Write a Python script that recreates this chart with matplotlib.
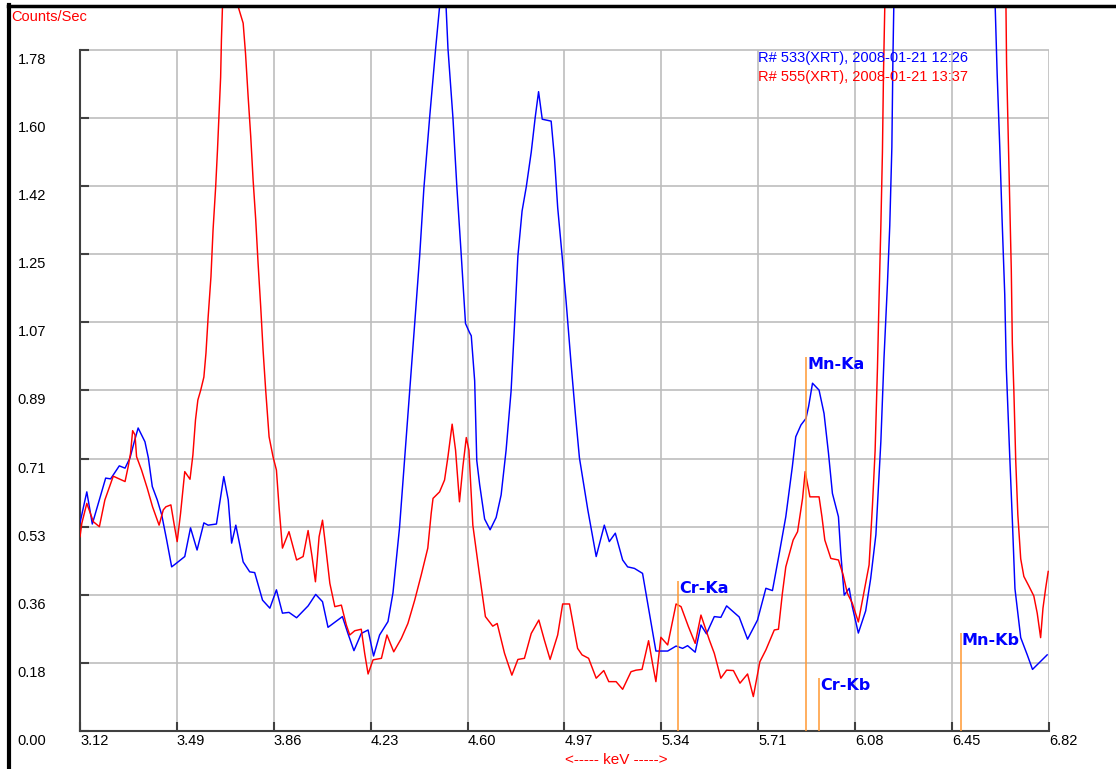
import matplotlib
matplotlib.use("Agg")
import matplotlib.pyplot as plt
from matplotlib.lines import Line2D
from matplotlib.transforms import ScaledTranslation

plt.rcParams['font.family'] = ['Liberation Sans', 'DejaVu Sans']

# spectrum R# 533 (blue), keV / counts per sec
blue_kev = [3.120, 3.146, 3.167, 3.218, 3.237, 3.270, 3.292, 3.311, 3.326, 3.342,
            3.368, 3.381, 3.396, 3.415, 3.432, 3.451, 3.470, 3.489, 3.520, 3.542,
            3.567, 3.593, 3.609, 3.641, 3.669, 3.686, 3.699, 3.715, 3.743, 3.768,
            3.787, 3.817, 3.845, 3.870, 3.893, 3.918, 3.947, 3.991, 4.020, 4.046,
            4.067, 4.122, 4.143, 4.166, 4.194, 4.220, 4.241, 4.264, 4.296, 4.315,
            4.340, 4.360, 4.379, 4.398, 4.417, 4.433, 4.455, 4.478, 4.493, 4.505,
            4.518, 4.525, 4.544, 4.559, 4.576, 4.592, 4.607, 4.614, 4.627, 4.635,
            4.646, 4.665, 4.686, 4.709, 4.728, 4.747, 4.766, 4.779, 4.792, 4.808,
            4.824, 4.843, 4.858, 4.871, 4.885, 4.919, 4.932, 4.944, 4.961, 4.976,
            4.995, 5.012, 5.027, 5.059, 5.091, 5.122, 5.141, 5.164, 5.192, 5.211,
            5.237, 5.268, 5.294, 5.319, 5.364, 5.396, 5.421, 5.440, 5.469, 5.491,
            5.512, 5.542, 5.567, 5.589, 5.637, 5.669, 5.707, 5.739, 5.764, 5.790,
            5.815, 5.840, 5.853, 5.873, 5.892, 5.902, 5.917, 5.942, 5.961, 5.978,
            5.993, 6.016, 6.025, 6.038, 6.057, 6.069, 6.092, 6.120, 6.139, 6.159,
            6.168, 6.178, 6.190, 6.203, 6.212, 6.220, 6.224, 6.230, 6.419, 6.610,
            6.622, 6.632, 6.641, 6.651, 6.657, 6.664, 6.670, 6.680, 6.690, 6.712,
            6.737, 6.757, 6.813]
blue_cps = [0.544, 0.625, 0.541, 0.661, 0.659, 0.693, 0.687, 0.714, 0.753, 0.792,
            0.756, 0.714, 0.639, 0.604, 0.565, 0.499, 0.429, 0.439, 0.456, 0.531,
            0.473, 0.544, 0.538, 0.541, 0.665, 0.604, 0.491, 0.538, 0.442, 0.416,
            0.414, 0.342, 0.321, 0.369, 0.308, 0.310, 0.296, 0.327, 0.357, 0.338,
            0.271, 0.299, 0.255, 0.210, 0.255, 0.264, 0.196, 0.251, 0.286, 0.361,
            0.531, 0.714, 0.889, 1.065, 1.242, 1.418, 1.603, 1.784, 1.893, 1.939,
            1.890, 1.784, 1.603, 1.422, 1.241, 1.065, 1.042, 1.033, 0.915, 0.707,
            0.644, 0.554, 0.526, 0.558, 0.617, 0.734, 0.888, 1.060, 1.241, 1.359,
            1.422, 1.513, 1.603, 1.671, 1.599, 1.594, 1.495, 1.368, 1.241, 1.124,
            0.961, 0.825, 0.714, 0.578, 0.456, 0.538, 0.495, 0.517, 0.447, 0.429,
            0.425, 0.412, 0.308, 0.209, 0.209, 0.222, 0.216, 0.223, 0.206, 0.277,
            0.254, 0.299, 0.297, 0.327, 0.298, 0.240, 0.290, 0.373, 0.367, 0.464,
            0.560, 0.691, 0.769, 0.800, 0.817, 0.848, 0.909, 0.891, 0.830, 0.726,
            0.621, 0.560, 0.464, 0.355, 0.373, 0.325, 0.256, 0.314, 0.398, 0.513,
            0.629, 0.757, 0.975, 1.167, 1.321, 1.526, 1.757, 2.000, 4.600, 2.000,
            1.718, 1.526, 1.334, 1.141, 0.949, 0.821, 0.719, 0.552, 0.372, 0.244,
            0.199, 0.161, 0.199]

# spectrum R# 555 (red)
red_kev = [3.120, 3.127, 3.146, 3.171, 3.194, 3.215, 3.247, 3.266, 3.292, 3.304,
           3.313, 3.321, 3.330, 3.336, 3.355, 3.377, 3.397, 3.422, 3.438, 3.448,
           3.467, 3.480, 3.491, 3.504, 3.520, 3.540, 3.551, 3.561, 3.570, 3.581,
           3.593, 3.601, 3.609, 3.620, 3.628, 3.638, 3.645, 3.651, 3.657, 3.660,
           3.664, 3.692, 3.724, 3.743, 3.752, 3.762, 3.772, 3.781, 3.791, 3.800,
           3.810, 3.819, 3.829, 3.842, 3.857, 3.870, 3.880, 3.893, 3.918, 3.947,
           3.972, 3.991, 4.006, 4.019, 4.033, 4.046, 4.058, 4.074, 4.093, 4.118,
           4.137, 4.150, 4.169, 4.194, 4.207, 4.220, 4.239, 4.271, 4.292, 4.318,
           4.347, 4.372, 4.398, 4.423, 4.448, 4.461, 4.468, 4.493, 4.512, 4.525,
           4.541, 4.554, 4.569, 4.582, 4.595, 4.605, 4.620, 4.643, 4.668, 4.696,
           4.713, 4.741, 4.769, 4.792, 4.817, 4.843, 4.872, 4.893, 4.915, 4.944,
           4.963, 4.989, 5.020, 5.037, 5.062, 5.091, 5.120, 5.139, 5.167, 5.192,
           5.224, 5.243, 5.266, 5.291, 5.306, 5.319, 5.338, 5.364, 5.396, 5.415,
           5.443, 5.469, 5.491, 5.510, 5.523, 5.542, 5.567, 5.589, 5.615, 5.640,
           5.669, 5.691, 5.716, 5.739, 5.771, 5.787, 5.802, 5.815, 5.843, 5.860,
           5.879, 5.889, 5.907, 5.942, 5.953, 5.964, 5.987, 6.016, 6.034, 6.050,
           6.069, 6.092, 6.110, 6.133, 6.146, 6.156, 6.165, 6.171, 6.178, 6.184,
           6.188, 6.196, 6.431, 6.654, 6.658, 6.664, 6.670, 6.676, 6.680, 6.686,
           6.693, 6.701, 6.712, 6.724, 6.743, 6.762, 6.775, 6.788, 6.797, 6.807,
           6.817]
red_cps = [0.508, 0.543, 0.595, 0.547, 0.534, 0.604, 0.666, 0.660, 0.652, 0.691,
           0.726, 0.785, 0.774, 0.717, 0.682, 0.634, 0.586, 0.538, 0.578, 0.586,
           0.591, 0.538, 0.495, 0.569, 0.678, 0.658, 0.721, 0.813, 0.865, 0.891,
           0.925, 0.988, 1.079, 1.187, 1.309, 1.422, 1.519, 1.615, 1.709, 1.806,
           1.893, 1.950, 1.893, 1.850, 1.771, 1.658, 1.553, 1.440, 1.336, 1.222,
           1.109, 0.996, 0.891, 0.769, 0.717, 0.682, 0.586, 0.478, 0.521, 0.447,
           0.456, 0.524, 0.456, 0.390, 0.508, 0.551, 0.482, 0.386, 0.325, 0.329,
           0.277, 0.251, 0.262, 0.266, 0.203, 0.149, 0.186, 0.190, 0.251, 0.207,
           0.242, 0.281, 0.342, 0.408, 0.478, 0.569, 0.608, 0.625, 0.656, 0.717,
           0.802, 0.734, 0.599, 0.691, 0.767, 0.734, 0.538, 0.421, 0.299, 0.274,
           0.281, 0.203, 0.146, 0.187, 0.190, 0.255, 0.290, 0.238, 0.187, 0.251,
           0.332, 0.332, 0.216, 0.199, 0.190, 0.138, 0.158, 0.129, 0.129, 0.109,
           0.155, 0.159, 0.161, 0.236, 0.177, 0.129, 0.245, 0.225, 0.332, 0.325,
           0.273, 0.229, 0.303, 0.264, 0.238, 0.203, 0.138, 0.159, 0.158, 0.125,
           0.149, 0.090, 0.181, 0.212, 0.264, 0.266, 0.360, 0.429, 0.499, 0.521,
           0.608, 0.678, 0.612, 0.612, 0.560, 0.499, 0.451, 0.447, 0.408, 0.360,
           0.334, 0.285, 0.350, 0.434, 0.591, 0.732, 0.949, 1.129, 1.321, 1.513,
           1.718, 2.000, 4.400, 2.000, 1.744, 1.565, 1.398, 1.206, 1.013, 0.885,
           0.706, 0.565, 0.450, 0.404, 0.379, 0.353, 0.308, 0.244, 0.321, 0.372,
           0.417]

# element markers
elem_names = ['Cr-Ka', 'Mn-Ka', 'Cr-Kb', 'Mn-Kb']
elem_kev = [5.405, 5.894, 5.942, 6.483]
elem_height = [0.392, 0.977, 0.139, 0.257]

x_ticks = [3.12, 3.49, 3.86, 4.23, 4.60, 4.97, 5.34, 5.71, 6.08, 6.45, 6.82]
x_labels = ['3.12', '3.49', '3.86', '4.23', '4.60', '4.97', '5.34', '5.71', '6.08', '6.45', '6.82']
y_ticks = [0.0, 0.178, 0.356, 0.534, 0.712, 0.89, 1.068, 1.246, 1.424, 1.602, 1.78]
y_labels = ['0.00', '0.18', '0.36', '0.53', '0.71', '0.89', '1.07', '1.25', '1.42', '1.60', '1.78']

legend_lines = ['R# 533(XRT), 2008-01-21 12:26', 'R# 555(XRT), 2008-01-21 13:37']

W, H = 1116, 769
fig = plt.figure(figsize=(W / 100, H / 100), dpi=100)
ax = fig.add_axes([80 / W, 38 / H, 969 / W, 723.5 / H])
ax.set_xlim(3.12, 6.82)
ax.set_ylim(0, 1.891)

grid_col = '#bdbdbd'
ax.hlines(y_ticks[1:], 3.12, 6.82, color=grid_col, lw=1.2, zorder=1)
ax.vlines(x_ticks[1:], 0, 1.78, color=grid_col, lw=1.2, zorder=1)

ax.plot(blue_kev, blue_cps, color='#0000ff', lw=1.05, zorder=3)
ax.plot(red_kev, red_cps, color='#ff0000', lw=1.05, zorder=3)

for name, k, h in zip(elem_names, elem_kev, elem_height):
    ax.vlines(k, 0, h, color='#ff9933', lw=1.1, zorder=4)
    ax.text(k + 0.004, h, name, color='#0000ff', fontsize=11.5, fontweight='bold',
            family=['DejaVu Sans'], ha='left', va='top', zorder=5)

for s in ['top', 'right']:
    ax.spines[s].set_visible(False)
for s in ['left', 'bottom']:
    ax.spines[s].set_color('#404040')
    ax.spines[s].set_linewidth(1.5)
ax.spines['left'].set_bounds(0, 1.78)

ax.set_xticks(x_ticks, x_labels)
ax.set_yticks(y_ticks, y_labels)
ax.tick_params(direction='in', length=6.5, width=1.5, color='#404040', labelsize=10.5)
ax.tick_params(axis='y', pad=45)
ax.tick_params(axis='x', pad=2)
shift_down = ScaledTranslation(0, -3 / 100, fig.dpi_scale_trans)
for lbl in ax.get_yticklabels():
    lbl.set_ha('left')
    lbl.set_va('top')
    lbl.set_transform(lbl.get_transform() + shift_down)
for lbl in ax.get_xticklabels():
    lbl.set_ha('left')

fig.text(11 / W, 1 - 17 / H, 'Counts/Sec', color='#ff0000', fontsize=10.5, va='center', ha='left')
fig.text(616 / W, 1 - 760 / H, '<----- keV ----->', color='#ff0000', fontsize=11, va='center', ha='center')
fig.text(758 / W, 1 - 58 / H, legend_lines[0], color='#0000ff', fontsize=10.5, va='center', ha='left')
fig.text(758 / W, 1 - 77 / H, legend_lines[1], color='#ff0000', fontsize=10.5, va='center', ha='left')

# window frame (left and top edges)
fig.add_artist(Line2D([9 / W, 9 / W], [0, 1 - 5 / H], transform=fig.transFigure, color='black', lw=3))
fig.add_artist(Line2D([7.5 / W, 1], [1 - 6 / H, 1 - 6 / H], transform=fig.transFigure, color='black', lw=2.5))

fig.savefig('out.png', dpi=100)
